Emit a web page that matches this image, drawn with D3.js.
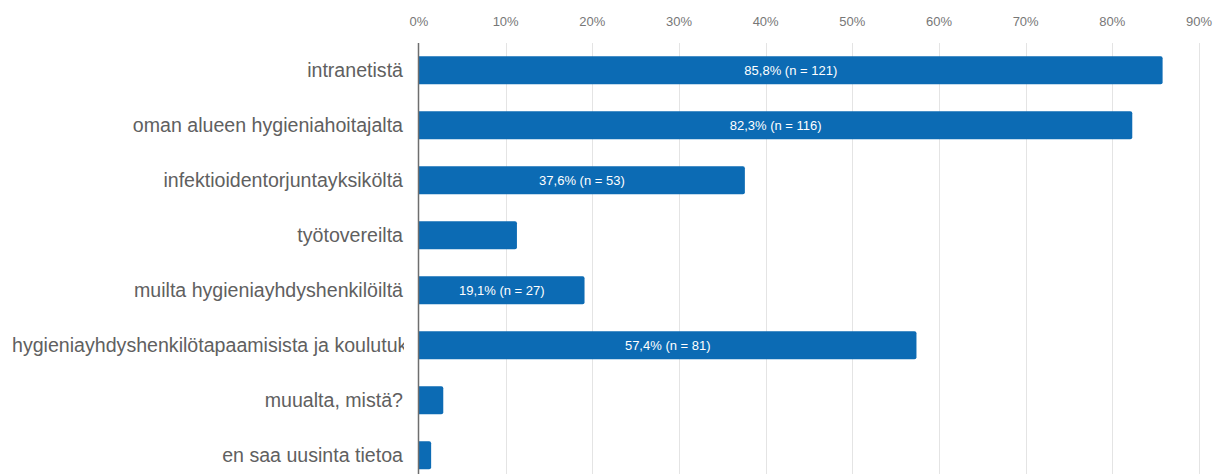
<!DOCTYPE html>
<html lang="fi">
<head>
<meta charset="utf-8">
<title>Tietolähteet</title>
<script src="https://cdn.jsdelivr.net/npm/d3@7"></script>
<style>
  body { margin: 0; background: #fff; }
  text { font-family: "Liberation Sans", Arial, sans-serif; }
</style>
</head>
<body>
<script>
// data
var categories = ["intranetistä", "oman alueen hygieniahoitajalta", "infektioidentorjuntayksiköltä",
  "työtovereilta", "muilta hygieniayhdyshenkilöiltä",
  "hygieniayhdyshenkilötapaamisista ja koulutuksista", "muualta, mistä?", "en saa uusinta tietoa"];
var percents = [85.8, 82.3, 37.6, 11.3, 19.1, 57.4, 2.8, 1.4];
var counts = [121, 116, 53, 16, 27, 81, 4, 2];
var ticks = [0, 10, 20, 30, 40, 50, 60, 70, 80, 90];

var w = 1213, h = 474;
var x0 = 419, x1 = 1199;   // 0% .. 90%
var labelRight = 403, labelLeft = 12;

var svg = d3.select("body").append("svg")
  .attr("width", w).attr("height", h);

var x = d3.scaleLinear().domain([0, 90]).range([x0, x1]);
var y = d3.scaleBand().domain(categories).range([42.8, 482.8]).paddingInner(0.49).paddingOuter(0.245);

// grid lines
svg.append("g").selectAll("line")
  .data(ticks.slice(1))
  .enter().append("line")
  .attr("x1", function(d){ return Math.round(x(d)) + 0.5; })
  .attr("x2", function(d){ return Math.round(x(d)) + 0.5; })
  .attr("y1", 43).attr("y2", h)
  .attr("stroke", "#e4e4e4").attr("stroke-width", 1);

// tick labels on top
svg.append("g").selectAll("text")
  .data(ticks)
  .enter().append("text")
  .attr("x", function(d){ return x(d); })
  .attr("y", 26)
  .attr("text-anchor", "middle")
  .attr("font-size", "13px")
  .attr("fill", "#777")
  .text(function(d){ return d + "%"; });

// bars
var rows = categories.map(function(c, i){ return {cat: c, p: percents[i], n: counts[i]}; });
svg.append("g").selectAll("path")
  .data(rows)
  .enter().append("path")
  .attr("fill", "#0c6bb4")
  .attr("d", function(d){
    var r = 2, bx = x(0), by = y(d.cat), bw = x(d.p) - x(0), bh = y.bandwidth();
    return "M" + bx + "," + by + "H" + (bx + bw - r) + "Q" + (bx + bw) + "," + by + " " + (bx + bw) + "," + (by + r) +
      "V" + (by + bh - r) + "Q" + (bx + bw) + "," + (by + bh) + " " + (bx + bw - r) + "," + (by + bh) + "H" + bx + "Z";
  });

// value labels inside bars (only where they fit)
svg.append("g").selectAll("text")
  .data(rows.filter(function(d){ return x(d.p) - x(0) > 120; }))
  .enter().append("text")
  .attr("x", function(d){ return (x(0) + x(d.p)) / 2; })
  .attr("y", function(d){ return y(d.cat) + y.bandwidth() / 2 + 4.5; })
  .attr("text-anchor", "middle")
  .attr("font-size", "13px")
  .attr("fill", "#fff")
  .text(function(d){ return d.p.toFixed(1).replace(".", ",") + "% (n = " + d.n + ")"; });

// category labels, clipped on the right
svg.append("clipPath").attr("id", "lab")
  .append("rect").attr("x", 0).attr("y", 0).attr("width", labelRight + 1).attr("height", h);

var labs = svg.append("g").attr("clip-path", "url(#lab)").selectAll("text")
  .data(categories)
  .enter().append("text")
  .attr("y", function(d){ return y(d) + y.bandwidth() / 2 + 7; })
  .attr("font-size", "19.6px")
  .attr("fill", "#606060")
  .text(function(d){ return d; });
labs.each(function(){
  var t = d3.select(this);
  if (this.getComputedTextLength() > labelRight - labelLeft) {
    t.attr("x", labelLeft).attr("text-anchor", "start");
  } else {
    t.attr("x", labelRight).attr("text-anchor", "end");
  }
});

// axis line
svg.append("line")
  .attr("x1", x0 - 0.5).attr("x2", x0 - 0.5)
  .attr("y1", 43).attr("y2", h)
  .attr("stroke", "#6e6e6e").attr("stroke-width", 1.5);
</script>
</body>
</html>
